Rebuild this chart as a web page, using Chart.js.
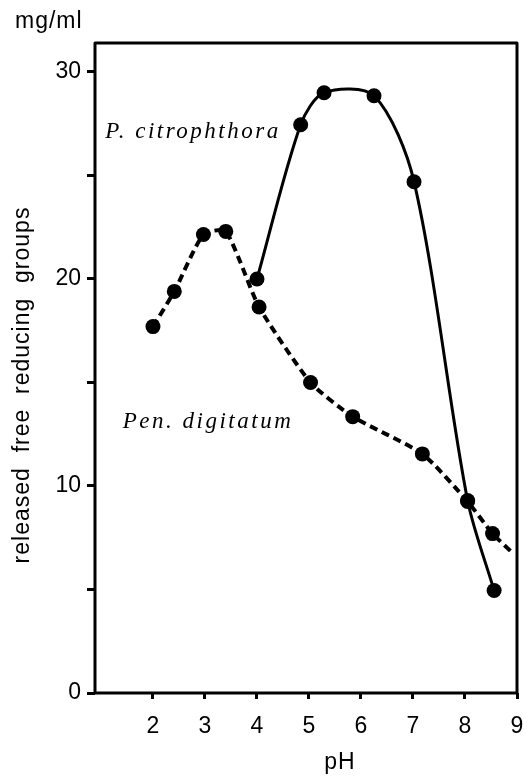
<!DOCTYPE html>
<html>
<head>
<meta charset="utf-8">
<script src="https://cdn.jsdelivr.net/npm/chart.js@4.4.1/dist/chart.umd.min.js"></script>
<style>
  html, body { margin: 0; padding: 0; background: #fff; }
  #chart { display: block; }
</style>
</head>
<body>
<canvas id="chart" width="525" height="776"></canvas>
<script>
// pH optimum curves, solid = P. citrophthora, dashed = Pen. digitatum
const phCitro = [4.0, 4.84, 5.29, 6.25, 7.02, 8.05, 8.56];
const valCitro = [20.0, 27.45, 29.0, 28.85, 24.7, 9.3, 4.95];
const phDigit = [2.0, 2.41, 2.97, 3.40, 4.04, 5.03, 5.84, 7.18, 8.05, 8.53, 8.90];
const valDigit = [17.7, 19.4, 22.15, 22.3, 18.65, 15.0, 13.35, 11.55, 9.25, 7.7, 6.8];
const xTicks = [2, 3, 4, 5, 6, 7, 8, 9];
const yTicks = [0, 5, 10, 15, 20, 25, 30];
const yLabelled = [0, 10, 20, 30];

const sansFont = "'Liberation Sans Narrow', 'Liberation Sans', sans-serif";
const serifFont = "'Liberation Serif', 'DejaVu Serif', serif";

function toPoints(xs, ys) {
  return xs.map((x, i) => ({ x: x, y: ys[i] }));
}

// dashed line runs past the last measured point, no marker there
const digitRadius = phDigit.map((v, i) => (i === phDigit.length - 1 ? 0 : 7.5));

const framePlugin = {
  id: 'frame',
  beforeDatasetsDraw(chart) {
    const a = chart.chartArea;
    const ctx = chart.ctx;
    ctx.save();
    ctx.strokeStyle = '#000';
    ctx.lineWidth = 3;
    ctx.lineJoin = 'round';
    ctx.strokeRect(a.left, a.top, a.right - a.left, a.bottom - a.top);
    ctx.restore();
  },
  afterDraw(chart) {
    const ctx = chart.ctx;
    const xs = chart.scales.x;
    const ys = chart.scales.y;
    ctx.save();
    ctx.fillStyle = '#000';

    // species names
    ctx.font = 'italic 23px ' + serifFont;
    ctx.letterSpacing = '2.5px';
    ctx.textAlign = 'left';
    ctx.textBaseline = 'alphabetic';
    ctx.fillText('P. citrophthora', xs.getPixelForValue(1.08), ys.getPixelForValue(26.8));
    ctx.fillText('Pen. digitatum', xs.getPixelForValue(1.42), ys.getPixelForValue(12.8));

    // axis titles
    ctx.font = '23px ' + sansFont;
    ctx.letterSpacing = '1px';
    ctx.fillText('mg/ml', 15, 28);

    ctx.textAlign = 'center';
    ctx.textBaseline = 'middle';
    ctx.fillText('pH', 340, 763);

    ctx.translate(23, 385);
    ctx.rotate(-Math.PI / 2);
    ctx.fillText('released  free  reducing  groups', 0, 0);
    ctx.restore();
  }
};

new Chart(document.getElementById('chart'), {
  type: 'line',
  data: {
    datasets: [
      {
        label: 'P. citrophthora',
        data: toPoints(phCitro, valCitro),
        borderColor: '#000',
        backgroundColor: '#000',
        borderWidth: 3,
        tension: 0.3,
        pointRadius: 7.5,
        pointBackgroundColor: '#000',
        pointBorderWidth: 0,
        fill: false
      },
      {
        label: 'Pen. digitatum',
        data: toPoints(phDigit, valDigit),
        borderColor: '#000',
        backgroundColor: '#000',
        borderWidth: 4,
        borderDash: [8, 5],
        tension: 0.2,
        pointRadius: digitRadius,
        pointBackgroundColor: '#000',
        pointBorderWidth: 0,
        fill: false
      }
    ]
  },
  options: {
    responsive: false,
    animation: false,
    events: [],
    layout: { padding: { top: 43, right: 8, left: 0, bottom: 0 } },
    plugins: {
      legend: { display: false },
      tooltip: { enabled: false }
    },
    scales: {
      x: {
        type: 'linear',
        min: 0.885,
        max: 9,
        afterFit(scale) {
          scale.height = 83;
          scale.paddingLeft = 0;
          scale.paddingRight = 0;
        },
        afterBuildTicks(scale) { scale.ticks = xTicks.map(v => ({ value: v })); },
        border: { display: false },
        grid: { drawOnChartArea: false, drawTicks: true, tickLength: 6, tickWidth: 3, color: '#000' },
        ticks: {
          color: '#000',
          padding: 14,
          maxRotation: 0,
          font: { family: sansFont, size: 23 },
          callback: v => String(v)
        }
      },
      y: {
        min: 0,
        max: 31.4,
        afterFit(scale) {
          scale.width = 95;
          scale.paddingTop = 0;
          scale.paddingBottom = 0;
        },
        afterBuildTicks(scale) { scale.ticks = yTicks.map(v => ({ value: v })); },
        border: { display: false },
        grid: { drawOnChartArea: false, drawTicks: true, tickLength: 8, tickWidth: 3, color: '#000' },
        ticks: {
          color: '#000',
          padding: 6,
          font: { family: sansFont, size: 23 },
          callback: v => (yLabelled.includes(v) ? String(v) : '')
        }
      }
    }
  },
  plugins: [framePlugin]
});
</script>
</body>
</html>
